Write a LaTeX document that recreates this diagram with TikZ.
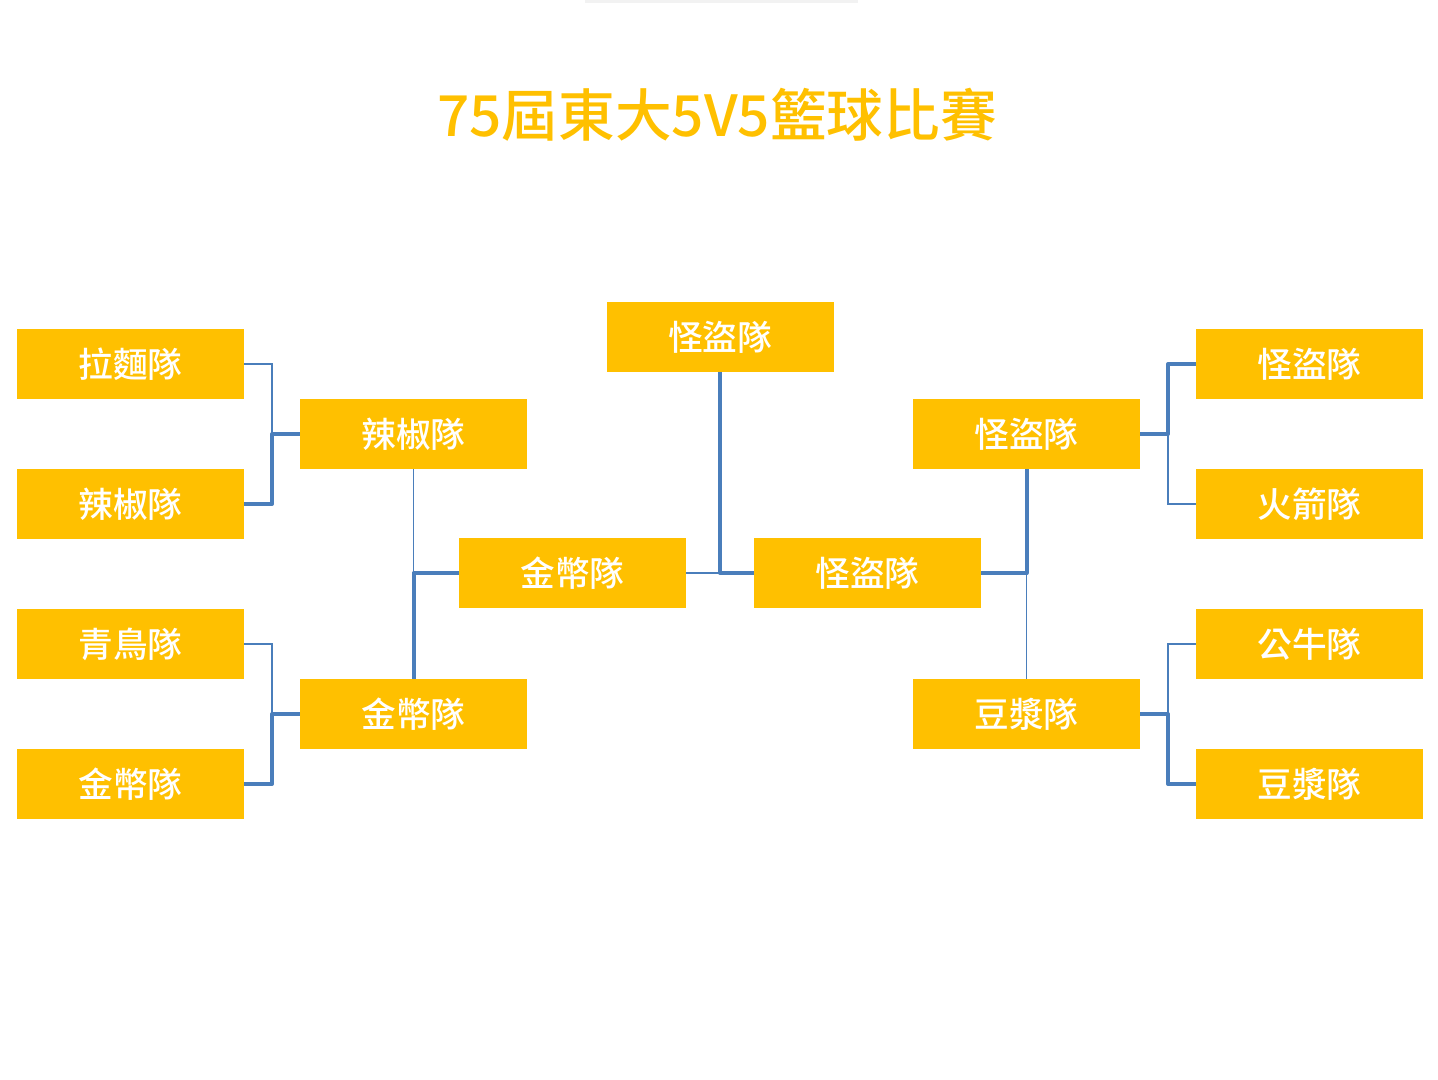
\documentclass[tikz,border=0pt]{standalone}
\usepackage{fontspec}
\newfontfamily\cjk{Noto Sans CJK TC Medium}
\definecolor{teamgold}{HTML}{FFC000}
\definecolor{linkblue}{HTML}{4A7EBB}
\begin{document}
\begin{tikzpicture}[x=0.75pt,y=-0.75pt,
  team/.style={fill=teamgold,text=white,minimum width=170.25pt,minimum height=52.5pt,inner sep=0pt,font=\cjk\fontsize{26}{26}\selectfont},
  lose/.style={draw=linkblue,line width=1pt},
  win/.style={draw=linkblue,line width=3pt,line join=round}]
\useasboundingbox (0,0) rectangle (1438,1080);
\fill[black!5] (585,0) rectangle (858,3);
\node[text=teamgold,font=\cjk\fontsize{42.5}{42.5}\selectfont] (title) at (717,115) {75屆東大5V5籃球比賽};
% first round
\node[team] (L1) at (130.5,364) {拉麵隊};
\node[team] (L2) at (130.5,504) {辣椒隊};
\node[team] (L3) at (130.5,644) {青鳥隊};
\node[team] (L4) at (130.5,784) {金幣隊};
\node[team] (R1) at (1309.5,364) {怪盜隊};
\node[team] (R2) at (1309.5,504) {火箭隊};
\node[team] (R3) at (1309.5,644) {公牛隊};
\node[team] (R4) at (1309.5,784) {豆漿隊};
% semi finals
\node[team] (L5) at (413.5,434) {辣椒隊};
\node[team] (L6) at (413.5,714) {金幣隊};
\node[team] (R5) at (1026.5,434) {怪盜隊};
\node[team] (R6) at (1026.5,714) {豆漿隊};
% finals
\node[team] (L7) at (572.5,573) {金幣隊};
\node[team] (R7) at (867.5,573) {怪盜隊};
\node[team] (C) at (720,337) {怪盜隊};
\coordinate (J1) at (272,434);
\coordinate (J2) at (272,714);
\coordinate (J3) at (413.5,573);
\coordinate (J4) at (720,573);
\coordinate (J5) at (1026.5,573);
\coordinate (J6) at (1168,434);
\coordinate (J7) at (1168,714);
\draw[lose] (L1.east) -| (J1);
\draw[win] (L2.east) -| (J1) -- (L5.west);
\draw[lose] (L3.east) -| (J2);
\draw[win] (L4.east) -| (J2) -- (L6.west);
\draw[lose] (L5.south) -- (J3);
\draw[win] (L6.north) -- (J3) -- (L7.west);
\draw[lose] (L7.east) -- (J4);
\draw[win] (C.south) -- (J4) -- (R7.west);
\draw[win] (R5.south) -- (J5) -- (R7.east);
\draw[lose] (R6.north) -- (J5);
\draw[win] (R1.west) -| (J6) -- (R5.east);
\draw[lose] (R2.west) -| (J6);
\draw[lose] (R3.west) -| (J7);
\draw[win] (R4.west) -| (J7) -- (R6.east);
\end{tikzpicture}
\end{document}
